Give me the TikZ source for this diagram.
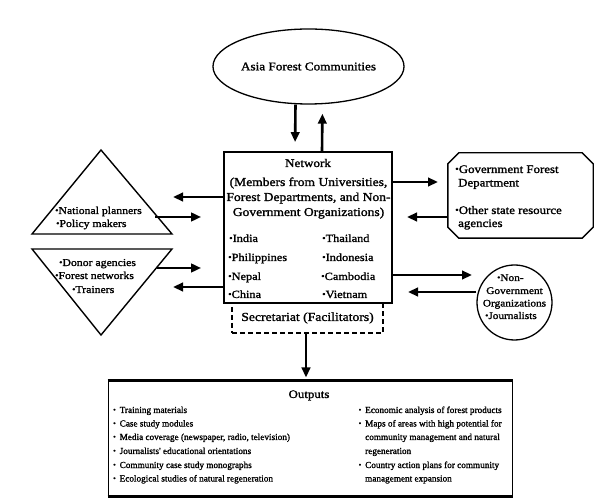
\documentclass[tikz,border=0pt]{standalone}
\usepackage{fontspec}
\setmainfont{Liberation Serif}[FakeStretch=1.12,FakeBold=1.5]
\newfontfamily\outfont{Liberation Serif}[FakeBold=1.3]
\usetikzlibrary{arrows.meta,shapes.geometric,calc}
\newcommand{\bu}{\raisebox{0.2ex}{\scalebox{0.8}{•}}}
\newcommand{\bi}{\makebox[6.5pt][l]{\bu}}
\newcommand{\fsz}[1]{\fontsize{#1}{#1}\selectfont}
\begin{document}
\begin{tikzpicture}[x=1pt,y=-1pt,
  arr/.style={line width=2.6pt,-{Triangle[length=10pt,width=8.5pt]}},
  lbl/.style={inner sep=0pt,anchor=base west},
  clbl/.style={inner sep=0pt,anchor=base},
  thinframe/.style={draw,line width=1.3pt,inner sep=0pt}]
\fill[white] (0,0) rectangle (600,502);
\useasboundingbox (0,0) rectangle (600,502);

% ellipse
\node[thinframe,ellipse,minimum width=148pt,minimum height=75pt,font=\fsz{11.8}] (afc) at (308.5,66.5) {Asia Forest Communities};

% secretariat (drawn before network)
\node[draw,line width=1.3pt,dash pattern=on 5pt off 3pt,minimum width=151pt,minimum height=30pt,inner sep=0pt,font=\fsz{12.2}] (sec) at (307.5,318) {Secretariat (Facilitators)};

% network box
\node[draw,fill=white,line width=1.8pt,minimum width=168pt,minimum height=151pt,inner sep=0pt] (net) at (308,227.5) {};
\node[clbl,font=\fsz{11.7}] (nt0) at (308,167) {Network};
\node[clbl,font=\fsz{12.1}] (nt1) at (308.5,186) {(Members from Universities,};
\node[clbl,font=\fsz{12.1}] (nt2) at (308.5,201) {Forest Departments, and Non-};
\node[clbl,font=\fsz{12.1}] (nt3) at (308.5,216) {Government Organizations)};
\begin{scope}[every node/.style={lbl,font=\fsz{11}}]
\node (c1) at (229,242) {\bu India};
\node (c2) at (228,261) {\bu Philippines};
\node (c3) at (228,280) {\bu Nepal};
\node (c4) at (228,298) {\bu China};
\node (c5) at (322,242) {\bu Thailand};
\node (c6) at (322,261) {\bu Indonesia};
\node (c7) at (321,280) {\bu Cambodia};
\node (c8) at (322,298) {\bu Vietnam};
\end{scope}

% ellipse <-> network
\draw[arr,shorten >=9pt] ([xshift=-13pt]afc.south) -- ([xshift=-13pt]net.north);
\draw[arr,shorten >=9pt] ([xshift=14pt]net.north) -- ([xshift=14pt]afc.south);

% outputs box
\node[draw,line width=1pt,minimum width=404pt,minimum height=115pt,inner sep=0pt] (out) at (310,438.5) {};
\draw[line width=2.2pt] (out.north west) -- (out.north east);
\draw[line width=2.2pt] (out.south west) -- (out.south east);
\draw[arr,shorten >=3pt] ([xshift=-1.5pt]sec.south) -- ([xshift=-1.5pt]sec.south |- out.north);
\node[clbl,font=\fsz{11.5}] (oh) at (309,398) {Outputs};
\begin{scope}[every node/.style={lbl,font=\outfont\fsz{9.2}}]
\node (o1) at (113,413) {\bi Training materials};
\node (o2) at (113,426.5) {\bi Case study modules};
\node (o3) at (113,440) {\bi Media coverage (newspaper, radio, television)};
\node (o4) at (113,454) {\bi Journalists' educational orientations};
\node (o5) at (113,468) {\bi Community case study monographs};
\node (o6) at (113,481.5) {\bi Ecological studies of natural regeneration};
\node (r1) at (358.5,413) {\bi Economic analysis of forest products};
\node (r2) at (358.5,426.5) {\bi Maps of areas with high potential for};
\node (r3) at (365,440) {community management and natural};
\node (r4) at (365,454) {regeneration};
\node (r5) at (358.5,468) {\bi Country action plans for community};
\node (r6) at (365,481.5) {management expansion};
\end{scope}

% triangles
\draw[line width=1.4pt,line join=miter] (101,150) -- (172,234) -- (32,234) -- cycle;
\draw[line width=1.4pt,line join=miter] (32,249) -- (172,249) -- (101,335) -- cycle;
\begin{scope}[every node/.style={lbl,font=\fsz{10.5}}]
\node (t1) at (55,214) {\bu National planners};
\node (t2) at (56,227) {\bu Policy makers};
\node (t3) at (59,266) {\bu Donor agencies};
\node (t4) at (55,279) {\bu Forest networks};
\node (t5) at (72,293) {\bu Trainers};
\end{scope}
\coordinate (a1) at (173,197);
\coordinate (b1) at (155,217);
\coordinate (b2) at (157,268);
\coordinate (a2) at (173,287);
\draw[arr] (net.west |- a1) -- (a1);
\draw[arr,shorten >=22pt] (b1) -- (net.west |- b1);
\draw[arr,shorten >=22pt] (b2) -- (net.west |- b2);
\draw[arr] (net.west |- a2) -- (a2);

% government box
\node[minimum width=145pt,minimum height=85pt,inner sep=0pt] (gov) at (520.5,195.5) {};
\draw[line width=1.4pt] ([xshift=11pt]gov.north west) -- ([xshift=-11pt]gov.north east)
  -- ([yshift=-11pt]gov.north east) -- ([yshift=11pt]gov.south east)
  -- ([xshift=-11pt]gov.south east) -- ([xshift=11pt]gov.south west)
  -- ([yshift=11pt]gov.south west) -- ([yshift=-11pt]gov.north west) -- cycle;
\begin{scope}[every node/.style={lbl,font=\fsz{11.5}}]
\node (g1) at (455,173) {\bu Government Forest};
\node (g2) at (458,186.5) {Department};
\node (g3) at (455,214) {\bu Other state resource};
\node (g4) at (458,227) {agencies};
\end{scope}

% NGO circle
\node[thinframe,circle,minimum size=75pt] (ngo) at (514.5,302.5) {};
\node[lbl,font=\fsz{10.1}] (n1) at (497,281) {\bu Non-};
\node[clbl,font=\fsz{10.1}] (n2) at (514.5,294) {Government};
\node[clbl,font=\fsz{10.1}] (n3) at (514.5,306.5) {Organizations};
\node[lbl,font=\fsz{10.1}] (n4) at (485,319) {\bu Journalists};

\coordinate (cc1) at (438,182);
\coordinate (dd1) at (407,217);
\coordinate (cc2) at (472,275);
\coordinate (dd2) at (408,292);
\draw[arr] (net.east |- cc1) -- (cc1);
\draw[arr] (gov.west |- dd1) -- (dd1);
\draw[arr] (net.east |- cc2) -- (cc2);
\draw[arr] (ngo.west |- dd2) -- (dd2);
\end{tikzpicture}
\end{document}
